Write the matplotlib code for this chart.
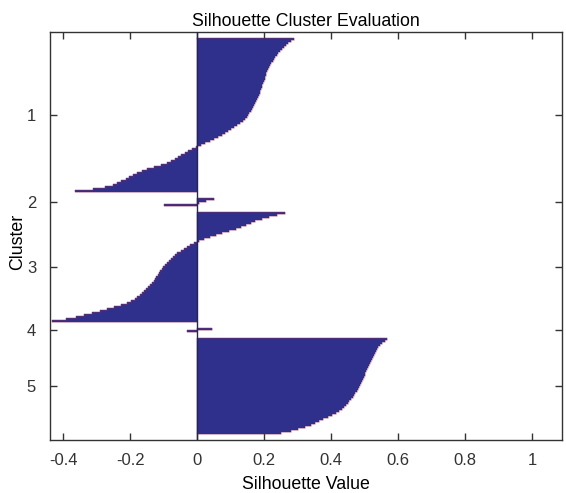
import numpy as np
import matplotlib.pyplot as plt

plt.rcParams['font.family'] = ['Liberation Sans', 'DejaVu Sans']

cluster_names = ['1', '2', '3', '4', '5']

# silhouette values per point, sorted high to low inside each cluster
sil_1 = [0.290, 0.280, 0.272, 0.265, 0.258, 0.252, 0.246, 0.241, 0.237, 0.233,
         0.229, 0.225, 0.220, 0.216, 0.213, 0.210, 0.207, 0.205, 0.204, 0.203,
         0.201, 0.199, 0.197, 0.195, 0.193, 0.191, 0.189, 0.187, 0.184, 0.182,
         0.179, 0.176, 0.173, 0.170, 0.167, 0.164, 0.160, 0.156, 0.152, 0.148,
         0.143, 0.136, 0.128, 0.120, 0.111, 0.102, 0.093, 0.083, 0.073, 0.063,
         0.051, 0.038, 0.024, 0.010, -0.004, -0.016, -0.027, -0.038, -0.048, -0.057,
         -0.067, -0.078, -0.090, -0.108, -0.130, -0.150, -0.165, -0.180, -0.192, -0.203,
         -0.214, -0.228, -0.240, -0.253, -0.275, -0.310, -0.364]
sil_2 = [0.050, 0.025, 0.006, -0.100]
sil_3 = [0.262, 0.238, 0.215, 0.193, 0.174, 0.160, 0.146, 0.132, 0.115, 0.096,
         0.074, 0.055, 0.038, 0.020, 0.004, -0.010, -0.021, -0.030, -0.040, -0.050,
         -0.059, -0.066, -0.072, -0.078, -0.085, -0.090, -0.096, -0.101, -0.106, -0.110,
         -0.114, -0.118, -0.122, -0.126, -0.130, -0.136, -0.141, -0.147, -0.152, -0.158,
         -0.164, -0.171, -0.179, -0.187, -0.197, -0.210, -0.228, -0.248, -0.270, -0.290,
         -0.313, -0.338, -0.362, -0.392, -0.435]
sil_4 = [0.045, -0.030]
sil_5 = [0.568, 0.560, 0.553, 0.546, 0.541, 0.537, 0.533, 0.530, 0.527, 0.524,
         0.521, 0.518, 0.515, 0.512, 0.509, 0.506, 0.504, 0.502, 0.500, 0.498,
         0.496, 0.493, 0.490, 0.487, 0.484, 0.480, 0.476, 0.472, 0.468, 0.464,
         0.459, 0.454, 0.449, 0.444, 0.439, 0.433, 0.425, 0.414, 0.402, 0.390,
         0.377, 0.365, 0.353, 0.340, 0.322, 0.302, 0.280, 0.250]

clusters = [sil_1, sil_2, sil_3, sil_4, sil_5]
x_ticks = [-0.4, -0.2, 0, 0.2, 0.4, 0.6, 0.8, 1]
x_labels = ['-0.4', '-0.2', '0', '0.2', '0.4', '0.6', '0.8', '1']

space = 3
navy = '#2f2f8c'
gray = '#333333'

fig = plt.figure(figsize=(5.66, 4.93), dpi=100)
ax = fig.add_axes([0.0883, 0.1075, 0.9047, 0.8276])

pos = space
centers = []
for vals in clusters:
    n = len(vals)
    y = pos + np.arange(n) + 0.5
    ax.barh(y, vals, height=1.0, color=navy, edgecolor=navy, linewidth=0.3)
    # faint reddish outline round each cluster block
    yy = np.repeat(np.arange(n + 1) + pos, 2)[1:-1]
    xx = np.repeat(vals, 2)
    ax.plot(np.r_[0, xx, 0], np.r_[pos, yy, pos + n], color='#d03030',
            lw=0.4, alpha=0.35)
    centers.append(pos + n / 2)
    pos += n + space

ax.axvline(0, color='#262650', lw=1.0, zorder=3)

ax.set_xlim(-0.44, 1.09)
ax.set_ylim(pos, 0)
ax.set_xticks(x_ticks, x_labels)
ax.set_yticks(centers, cluster_names)
ax.tick_params(direction='in', top=True, right=True, length=5, width=1,
               color=gray, labelcolor=gray, labelsize=12)
ax.tick_params(axis='x', pad=9)
ax.tick_params(axis='y', pad=10)
for s in ax.spines.values():
    s.set_color(gray)
    s.set_linewidth(1)

ax.set_title('Silhouette Cluster Evaluation', fontsize=12.8, pad=4)
ax.set_xlabel('Silhouette Value', fontsize=12.8, labelpad=6)
ax.set_ylabel('Cluster', fontsize=12.8)
ax.yaxis.set_label_coords(-0.047, 0.485)

fig.savefig('out.png', dpi=100)
